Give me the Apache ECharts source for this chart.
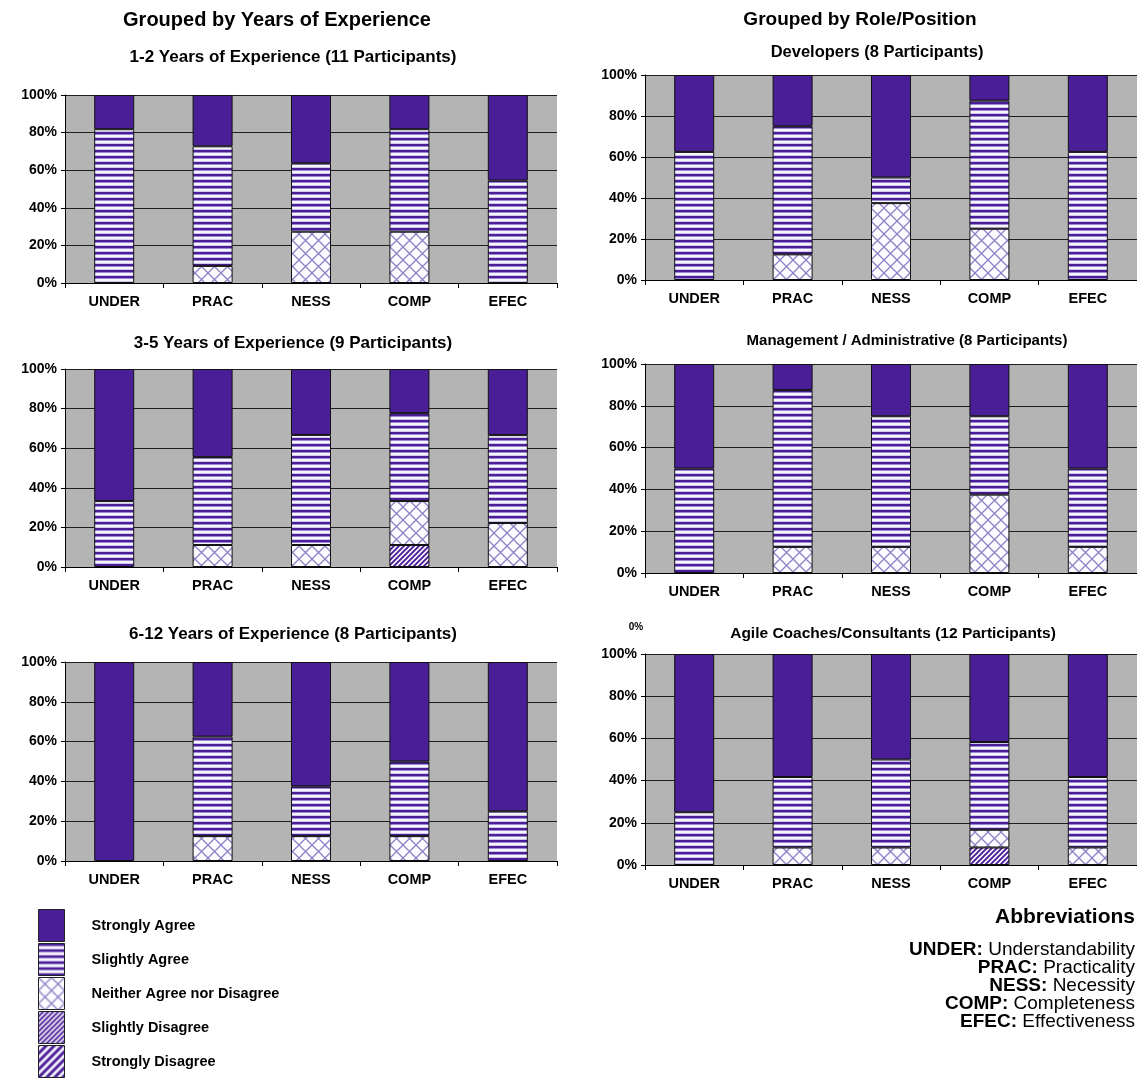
<!DOCTYPE html>
<html><head><meta charset="utf-8">
<script src="https://cdn.jsdelivr.net/npm/echarts@6/dist/echarts.min.js"></script>
<style>html,body{margin:0;padding:0;background:#fff}#c{width:1137px;height:1080px}</style>
</head><body><div id="c"></div>
<script>
// ---------------- DATA ----------------
const categories = ['UNDER', 'PRAC', 'NESS', 'COMP', 'EFEC'];
// stacking order: bottom -> top
const responseNames = ['Strongly Disagree', 'Slightly Disagree', 'Neither Agree nor Disagree', 'Slightly Agree', 'Strongly Agree'];
const legendOrder = ['Strongly Agree', 'Slightly Agree', 'Neither Agree nor Disagree', 'Slightly Disagree', 'Strongly Disagree'];
const yTickValues = [0, 20, 40, 60, 80, 100];

// percent of participants; rows follow responseNames, columns follow categories
const exp1to2 = [
  [0, 0, 0, 0, 0],
  [0, 0, 0, 0, 0],
  [0, 9.1, 27.3, 27.3, 0],
  [81.8, 63.6, 36.4, 54.5, 54.5],
  [18.2, 27.3, 36.3, 18.2, 45.5]
];
const exp3to5 = [
  [0, 0, 0, 0, 0],
  [0, 0, 0, 11.1, 0],
  [0, 11.1, 11.1, 22.2, 22.2],
  [33.3, 44.4, 55.6, 44.4, 44.4],
  [66.7, 44.5, 33.3, 22.3, 33.4]
];
const exp6to12 = [
  [0, 0, 0, 0, 0],
  [0, 0, 0, 0, 0],
  [0, 12.5, 12.5, 12.5, 0],
  [0, 50, 25, 37.5, 25],
  [100, 37.5, 62.5, 50, 75]
];
const developers = [
  [0, 0, 0, 0, 0],
  [0, 0, 0, 0, 0],
  [0, 12.5, 37.5, 25, 0],
  [62.5, 62.5, 12.5, 62.5, 62.5],
  [37.5, 25, 50, 12.5, 37.5]
];
const management = [
  [0, 0, 0, 0, 0],
  [0, 0, 0, 0, 0],
  [0, 12.5, 12.5, 37.5, 12.5],
  [50, 75, 62.5, 37.5, 37.5],
  [50, 12.5, 25, 25, 50]
];
const agileCoaches = [
  [0, 0, 0, 0, 0],
  [0, 0, 0, 8.3, 0],
  [0, 8.3, 8.3, 8.4, 8.3],
  [25, 33.4, 41.7, 41.6, 33.4],
  [75, 58.3, 50, 41.7, 58.3]
];
const panelTitles = [
  '1-2 Years of Experience (11 Participants)',
  '3-5 Years of Experience (9 Participants)',
  '6-12 Years of Experience (8 Participants)',
  'Developers (8 Participants)',
  'Management / Administrative (8 Participants)',
  'Agile Coaches/Consultants (12 Participants)'
];
const groupTitles = ['Grouped by Years of Experience', 'Grouped by Role/Position'];
const abbreviations = [
  ['UNDER:', 'Understandability'],
  ['PRAC:', 'Practicality'],
  ['NESS:', 'Necessity'],
  ['COMP:', 'Completeness'],
  ['EFEC:', 'Effectiveness']
];

// ---------------- STYLE / LAYOUT ----------------
const FONT = '"Liberation Sans", Arial, Helvetica, sans-serif';
const PURPLE = '#4a1e97';
const panelData = [exp1to2, exp3to5, exp6to12, developers, management, agileCoaches];
const grids = [
  {left: 65, top: 95, width: 492, height: 188},
  {left: 65, top: 369, width: 492, height: 198},
  {left: 65, top: 662, width: 492, height: 199},
  {left: 645, top: 75, width: 493, height: 205},
  {left: 645, top: 364, width: 493, height: 209},
  {left: 645, top: 654, width: 493, height: 211}
];
const subTitlePos = [
  [293, 57, 17], [293, 343, 17], [293, 634, 17],
  [877, 52, 16.5], [907, 341, 15], [893, 634, 15.5]
];

function canvasOf(w, h, draw) {
  const c = document.createElement('canvas');
  c.width = w; c.height = h;
  const ctx = c.getContext('2d');
  draw(ctx, w, h);
  return {image: c, repeat: 'repeat'};
}
const patStrongAgree = PURPLE;
const patSlightAgree = canvasOf(6, 6, (ctx) => {
  ctx.fillStyle = '#f7f4fd'; ctx.fillRect(0, 0, 6, 6);
  ctx.fillStyle = PURPLE; ctx.fillRect(0, 0, 6, 2);
  ctx.fillStyle = '#9a88d2'; ctx.fillRect(0, 2, 6, 1);
  ctx.fillStyle = '#cfc4ec'; ctx.fillRect(0, 5, 6, 1);
});
const patNeither = canvasOf(13, 13, (ctx) => {
  ctx.fillStyle = '#fcfbff'; ctx.fillRect(0, 0, 13, 13);
  ctx.strokeStyle = '#8f80c6'; ctx.lineWidth = 1.3;
  ctx.beginPath();
  ctx.moveTo(-1, -1); ctx.lineTo(14, 14);
  ctx.moveTo(14, -1); ctx.lineTo(-1, 14);
  ctx.stroke();
});
function diag(P, lw) {
  return canvasOf(P, P, (ctx) => {
    ctx.fillStyle = '#f8f6fd'; ctx.fillRect(0, 0, P, P);
    ctx.strokeStyle = PURPLE; ctx.lineWidth = lw;
    ctx.beginPath();
    for (const o of [-P, 0, P]) { ctx.moveTo(o - 1, P + 1); ctx.lineTo(o + P + 1, -1); }
    ctx.stroke();
  });
}
const patSlightDis = diag(5, 1.9);
const patStrongDis = diag(8, 3);
const fills = [patStrongDis, patSlightDis, patNeither, patSlightAgree, patStrongAgree];

// ---------------- OPTION ----------------
const xAxes = [], yAxes = [], series = [];
panelData.forEach((rows, i) => {
  xAxes.push({
    type: 'category', gridIndex: i, data: categories,
    axisLine: {show: true, lineStyle: {color: '#000', width: 1}},
    axisTick: {show: true, length: 5, lineStyle: {color: '#000'}},
    axisLabel: {color: '#000', fontWeight: 'bold', fontSize: 14.5, fontFamily: FONT, margin: 11},
    splitLine: {show: false}
  });
  yAxes.push({
    type: 'value', gridIndex: i, min: yTickValues[0], max: yTickValues[yTickValues.length - 1], interval: yTickValues[1] - yTickValues[0],
    axisLine: {show: true, lineStyle: {color: '#000', width: 1}},
    axisTick: {show: true, length: 4, lineStyle: {color: '#000'}},
    axisLabel: {color: '#000', fontWeight: 'bold', fontSize: 14, fontFamily: FONT, margin: 8, formatter: '{value}%'},
    splitLine: {show: true, lineStyle: {color: '#1e1e1e', width: 1}}
  });
  rows.forEach((vals, j) => {
    series.push({
      type: 'bar', name: responseNames[j], xAxisIndex: i, yAxisIndex: i, stack: 'panel' + i,
      barWidth: 40,
      data: vals.map(v => v === 0 ? '-' : v),
      itemStyle: {color: fills[j], borderColor: '#111', borderWidth: 1},
      emphasis: {disabled: true},
      silent: true
    });
  });
});

const graphics = [];
graphics.push({type: 'text', x: 277, y: 20, style: {text: groupTitles[0], font: 'bold 20px ' + FONT, fill: '#000', textAlign: 'center', textVerticalAlign: 'middle'}});
graphics.push({type: 'text', x: 860, y: 20, style: {text: groupTitles[1], font: 'bold 19px ' + FONT, fill: '#000', textAlign: 'center', textVerticalAlign: 'middle'}});
panelTitles.forEach((t, i) => {
  const p = subTitlePos[i];
  graphics.push({type: 'text', x: p[0], y: p[1], style: {text: t, font: 'bold ' + p[2] + 'px ' + FONT, fill: '#000', textAlign: 'center', textVerticalAlign: 'middle'}});
});
graphics.push({type: 'text', x: 636, y: 627, style: {text: '0%', font: 'bold 10px ' + FONT, fill: '#000', textAlign: 'center', textVerticalAlign: 'middle'}});
graphics.push({type: 'text', x: 1135, y: 917, style: {text: 'Abbreviations', font: 'bold 21px ' + FONT, fill: '#000', textAlign: 'right', textVerticalAlign: 'middle'}});
abbreviations.forEach((a, k) => {
  graphics.push({type: 'text', x: 1135, y: 950 + k * 18, style: {
    text: '{b|' + a[0] + '} ' + a[1], font: '19px ' + FONT, fill: '#000', textAlign: 'right', textVerticalAlign: 'middle',
    rich: {b: {font: 'bold 19px ' + FONT, fill: '#000'}}
  }});
});

const option = {
  animation: false,
  backgroundColor: '#ffffff',
  grid: grids.map(g => Object.assign({show: true, backgroundColor: '#b4b4b4', borderWidth: 0, containLabel: false}, g)),
  xAxis: xAxes,
  yAxis: yAxes,
  series: series,
  legend: {
    data: legendOrder, orient: 'vertical', left: 38, top: 909, padding: 0, height: 240,
    itemWidth: 26, itemHeight: 32, itemGap: 1, selectedMode: false, icon: 'rect',
    itemStyle: {borderWidth: 1, borderColor: '#222'},
    textStyle: {color: '#000', fontWeight: 'bold', fontSize: 14.5, fontFamily: FONT, padding: [0, 0, 0, 22]}
  },
  graphic: graphics
};
const chart = echarts.init(document.getElementById('c'), null, {renderer: 'canvas'});
chart.setOption(option);
</script></body></html>
